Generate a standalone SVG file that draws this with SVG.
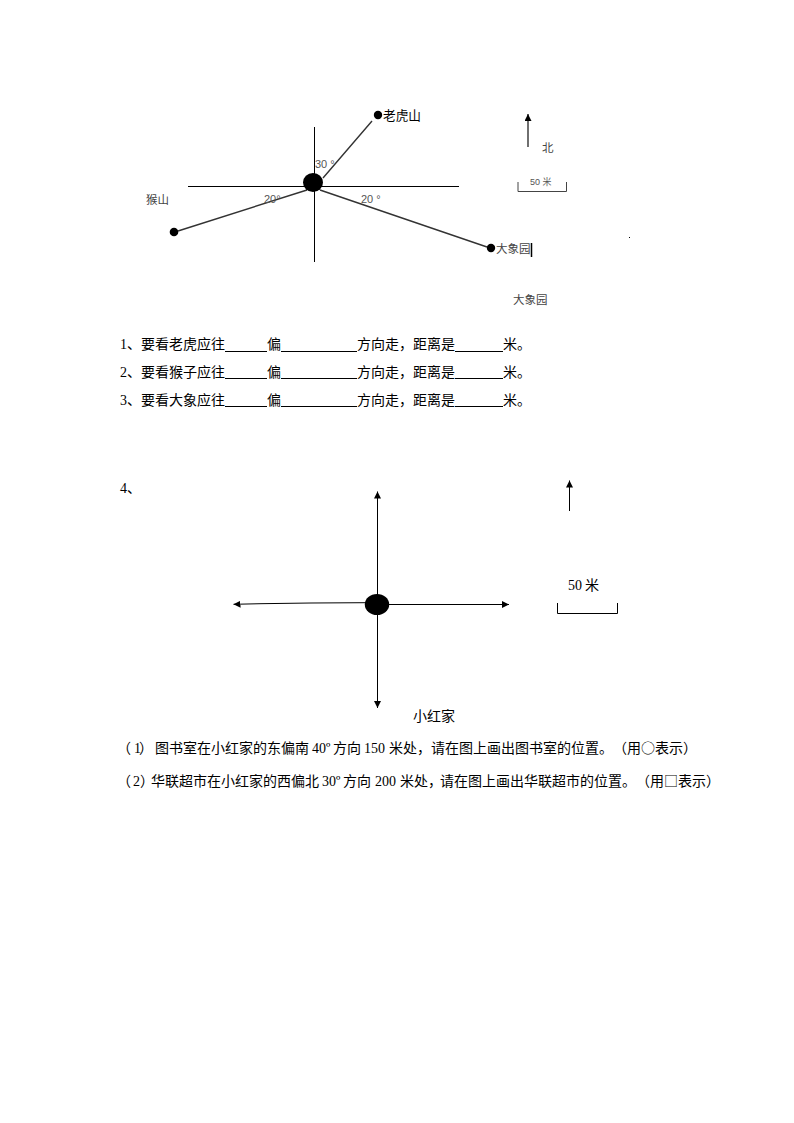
<svg xmlns="http://www.w3.org/2000/svg" width="794" height="1123" viewBox="0 0 794 1123">
<defs>
<style>
text{font-family:"Noto Sans CJK SC","Liberation Sans",sans-serif;fill:#000}
.t14{font-size:14px}
.num{font-family:"Liberation Serif","Noto Sans CJK SC",serif}
.s{font-size:11.5px;fill:#444}
.d{font-size:11px;fill:#555;font-family:"Liberation Sans","Noto Sans CJK SC",sans-serif}
.ln{stroke:#000;stroke-width:1;fill:none}
.g{stroke:#333;stroke-width:1.4;fill:none}
.ul{stroke:#000;stroke-width:1;fill:none}
</style>
<marker id="ah" markerUnits="userSpaceOnUse" markerWidth="9" markerHeight="9" refX="7" refY="3.500" orient="auto"><path d="M0 0L7 3.500L0 7z" fill="#000"/></marker>
</defs>
<rect width="794" height="1123" fill="#fff"/>
<g id="connectors-top">
<path class="ln" d="M314.500 127V262M188 186.500H459"/>
<path class="g" d="M323 178L372 121M307 190L178 231M320 190L487 247"/>
<path class="g" d="M528 147V114" marker-end="url(#ah)"/>
<path d="M518 182V191.500H566.500V182" fill="none" stroke="#444" stroke-width="1"/>
<path d="M531.500 243V257" stroke="#000" stroke-width="1.500"/>
<rect x="629" y="237" width="1" height="1" fill="#000"/>
</g>
<g id="node-center-top"><ellipse cx="313" cy="182.500" rx="10" ry="9.500" fill="#000"/></g>
<g id="node-tiger"><circle cx="378" cy="115" r="4.200" fill="#000"/><text x="383" y="120" font-size="12.700" fill="#222">老虎山</text></g>
<g id="node-monkey"><circle cx="174" cy="232" r="4.300" fill="#000"/><text class="s" x="146" y="204">猴山</text></g>
<g id="node-elephant"><circle cx="491" cy="248" r="4.200" fill="#000"/><text class="s" x="496" y="253">大象园</text></g>
<g id="labels-top">
<text class="d" x="315" y="168">30 °</text>
<text class="d" x="264" y="203">20°</text>
<text class="d" x="361" y="203">20 °</text>
<text class="s" x="542" y="152">北</text>
<text class="d" x="530" y="185" style="font-size:9px">50 米</text>
<text class="s" x="513" y="304">大象园</text>
</g>
<g id="questions">
<text class="t14" y="349"><tspan class="num" x="120">1</tspan><tspan x="127">、要看老虎应往</tspan><tspan x="267">偏</tspan><tspan x="357">方向走</tspan><tspan x="399">，距离是</tspan><tspan x="503">米。</tspan></text>
<text class="t14" y="376.500"><tspan class="num" x="120">2</tspan><tspan x="127">、要看猴子应往</tspan><tspan x="267">偏</tspan><tspan x="357">方向走</tspan><tspan x="399">，距离是</tspan><tspan x="503">米。</tspan></text>
<text class="t14" y="404.500"><tspan class="num" x="120">3</tspan><tspan x="127">、要看大象应往</tspan><tspan x="267">偏</tspan><tspan x="357">方向走</tspan><tspan x="399">，距离是</tspan><tspan x="503">米。</tspan></text>
<path class="ul" d="M225 351.500H267M281 351.500H357M455 351.500H503M225 378.500H267M281 378.500H357M455 378.500H503M225 406.500H267M281 406.500H357M455 406.500H503"/>
<text class="t14" y="493"><tspan class="num" x="120">4</tspan><tspan x="127">、</tspan></text>
</g>
<g id="connectors-bottom">
<path class="ln" d="M377.500 604V491.500" marker-end="url(#ah)"/>
<path class="ln" d="M377.500 604V708" marker-end="url(#ah)"/>
<path class="ln" d="M377 604.500H509" marker-end="url(#ah)"/>
<path class="ln" d="M366 602.700L311 603L261 603.700L233.500 604.300" marker-end="url(#ah)"/>
<path class="ln" d="M569.500 511V480.500" marker-end="url(#ah)"/>
<path class="ul" d="M557.500 603V613.500H617.500V603"/>
</g>
<g id="node-home"><ellipse cx="377" cy="604.500" rx="12.200" ry="10.500" fill="#000"/><text class="t14" x="413" y="721">小红家</text></g>
<g id="scale-label"><text class="t14" y="590"><tspan class="num" x="568">50</tspan><tspan x="585">米</tspan></text></g>
<g id="task-text">
<text class="t14" y="753"><tspan x="117">（</tspan><tspan class="num" x="134">1</tspan><tspan x="139">）</tspan><tspan x="155">图书室在小红家的东偏南</tspan><tspan class="num" x="312">40º</tspan><tspan x="333">方向</tspan><tspan class="num" x="364">150</tspan><tspan x="389">米处，</tspan><tspan x="431">请在图上画出图书室的位置。</tspan><tspan x="613">（用○表示）</tspan></text>
<text class="t14" y="786"><tspan x="117">（</tspan><tspan class="num" x="133">2</tspan><tspan x="140">）</tspan><tspan x="151">华联超市在小红家的西偏北</tspan><tspan class="num" x="322">30º</tspan><tspan x="343">方向</tspan><tspan class="num" x="375">200</tspan><tspan x="400">米处，</tspan><tspan x="440">请在图上画出华联超市的位置。</tspan><tspan x="636">（用□表示）</tspan></text>
</g>
</svg>
